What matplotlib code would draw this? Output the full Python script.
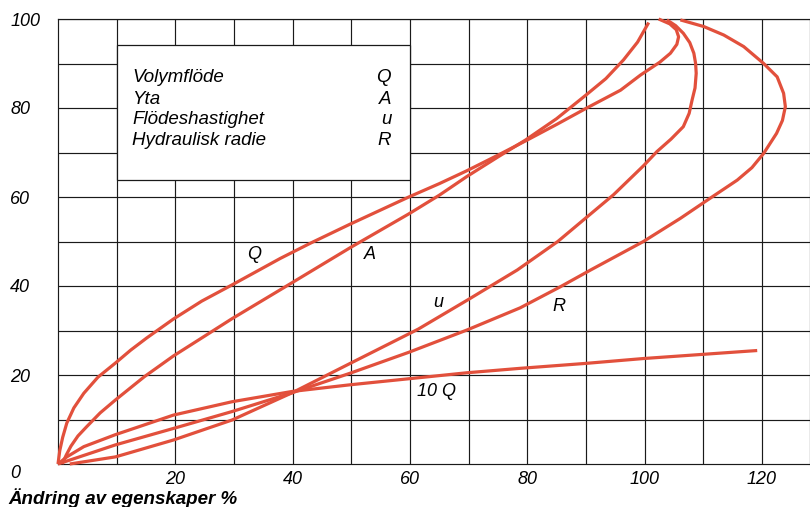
import matplotlib
matplotlib.use("Agg")
import matplotlib.pyplot as plt
from matplotlib.patches import Rectangle

plt.rcParams['font.family'] = ['Liberation Sans', 'DejaVu Sans']

# kurvor (x = ändring %, y = fyllnadsgrad %)
q_x = [0, 0.3, 0.8, 1.5, 2.7, 4.4, 6.8, 9.8, 12.4, 15.1, 19.7, 24.5, 29.6, 37.9, 43.0,
       49.8, 59.8, 65.0, 69.7, 75.0, 79.7, 85.0, 90.0, 95.9, 99.3, 102.6, 104.4, 105.5,
       105.8, 105.4, 104.3, 102.4]
q_y = [0, 3.0, 6.0, 9.2, 12.6, 15.9, 19.5, 22.7, 25.6, 28.3, 32.6, 36.6, 40.2, 46.2, 49.6,
       53.9, 60.0, 63.0, 65.9, 69.4, 72.6, 76.3, 79.9, 84.0, 87.4, 90.3, 92.3, 94.3,
       96.0, 97.6, 98.9, 100]

a_x = [0.7, 1.4, 2.2, 3.4, 4.9, 7.2, 9.8, 14.7, 19.7, 24.0, 29.6, 39.6, 49.8, 59.8,
       65.0, 69.7, 75.0, 79.7, 85.0, 90.0, 93.4, 96.4, 98.8, 100.7]
a_y = [0, 2.0, 4.0, 6.3, 8.4, 11.5, 14.4, 19.6, 24.3, 27.9, 32.6, 40.5, 48.6, 56.2,
       60.4, 64.6, 69.0, 72.8, 77.6, 82.9, 86.6, 90.8, 94.8, 99.2]

u_x = [2.0, 9.8, 19.7, 29.7, 39.9, 49.8, 61.4, 70.0, 78.3, 85.2, 89.9, 94.7, 99.8,
       102.1, 104.5, 106.6, 107.6, 108.1, 108.6, 108.8, 108.7, 108.4, 107.7, 106.6,
       105.3, 103.8]
u_y = [0, 1.6, 5.4, 9.9, 16.0, 22.6, 30.3, 37.0, 43.6, 50.0, 55.2, 60.5, 67.0,
       70.2, 73.0, 75.8, 78.8, 81.8, 84.5, 87.8, 90.0, 92.3, 94.7, 96.8, 98.5, 99.8]

r_x = [0, 9.8, 19.7, 29.7, 39.9, 49.8, 59.8, 69.7, 78.8, 85.6, 90.8, 99.8, 106.1,
       110.7, 115.8, 118.3, 120.3, 122.5, 123.5, 124.0, 123.7, 122.6, 120.3, 116.9,
       113.5, 110.1, 106.1]
r_y = [0, 4.3, 8.0, 11.8, 16.0, 20.4, 25.1, 30.1, 35.1, 39.8, 43.6, 50.0, 55.2,
       59.3, 63.8, 66.6, 69.8, 74.3, 77.2, 80.3, 83.3, 87.0, 90.0, 93.8, 96.4, 98.3, 99.8]

q10_x = [0, 1.5, 4.4, 9.8, 19.7, 29.7, 39.9, 49.8, 69.7, 78.8, 89.9, 99.8, 119.2]
q10_y = [0, 1.6, 3.9, 6.6, 11.0, 14.0, 16.3, 17.8, 20.5, 21.5, 22.6, 23.7, 25.5]

x_ticks = [20, 40, 60, 80, 100, 120]
y_ticks = [20, 40, 60, 80, 100]

legend_names = ["Volymflöde", "Yta", "Flödeshastighet", "Hydraulisk radie"]
legend_syms = ["Q", "A", "u", "R"]

curve_labels = ["Q", "A", "u", "R", "10 Q"]
curve_label_pos = [(33.5, 47.0), (53.2, 47.0), (64.9, 36.2), (85.4, 35.3), (64.6, 16.2)]

red = '#E2503C'

fig = plt.figure(figsize=(8.1, 5.07), dpi=100)
ax = fig.add_axes([58 / 810, 43 / 507, 752 / 810, 445 / 507])
ax.set_xlim(0, 128.2)
ax.set_ylim(0, 100)

# rutnät var 10:e enhet
ax.set_xticks(range(10, 130, 10), minor=True)
ax.set_yticks(range(10, 100, 10), minor=True)
ax.set_xticks(x_ticks, [str(v) for v in x_ticks])
ax.set_yticks(y_ticks, [str(v) for v in y_ticks])
ax.grid(True, which='both', color='#1a1a1a', lw=0.85, zorder=0)
ax.tick_params(which='both', length=0)
ax.tick_params(axis='x', pad=5, labelsize=13)
ax.tick_params(axis='y', pad=34.5, labelsize=13)
for lbl in ax.get_xticklabels() + ax.get_yticklabels():
    lbl.set_style('italic')
for lbl in ax.get_yticklabels():
    lbl.set_horizontalalignment('left')
for s in ax.spines.values():
    s.set_color('#1a1a1a')
    s.set_linewidth(0.85)

# förklaringsruta
ax.add_patch(Rectangle((10, 63.8), 50, 30.4, facecolor='white', edgecolor='#1a1a1a',
                       lw=0.9, zorder=2))
legend_y = [86.8, 81.9, 77.4, 72.7]
for name, sym, yy in zip(legend_names, legend_syms, legend_y):
    ax.text(12.7, yy, name, style='italic', fontsize=13.5, va='center', ha='left', zorder=3)
    ax.text(56.8, yy, sym, style='italic', fontsize=13.5, va='center', ha='right', zorder=3)

for xs, ys in [(q_x, q_y), (a_x, a_y), (u_x, u_y), (r_x, r_y), (q10_x, q10_y)]:
    ax.plot(xs, ys, color=red, lw=2.3, solid_capstyle='butt', solid_joinstyle='round',
            zorder=4, clip_on=False)

for txt, (tx, ty) in zip(curve_labels, curve_label_pos):
    ax.text(tx, ty, txt, style='italic', fontsize=13, ha='center', va='center', zorder=5)

fig.text(10 / 810, 1 - 474 / 507, "0", style='italic', fontsize=13, ha='left', va='center')
fig.text(8 / 810, 1 - 498.5 / 507, "Ändring av egenskaper %", style='italic',
         fontweight='bold', fontsize=13.5, ha='left', va='center')

fig.savefig("out.png", dpi=100)
